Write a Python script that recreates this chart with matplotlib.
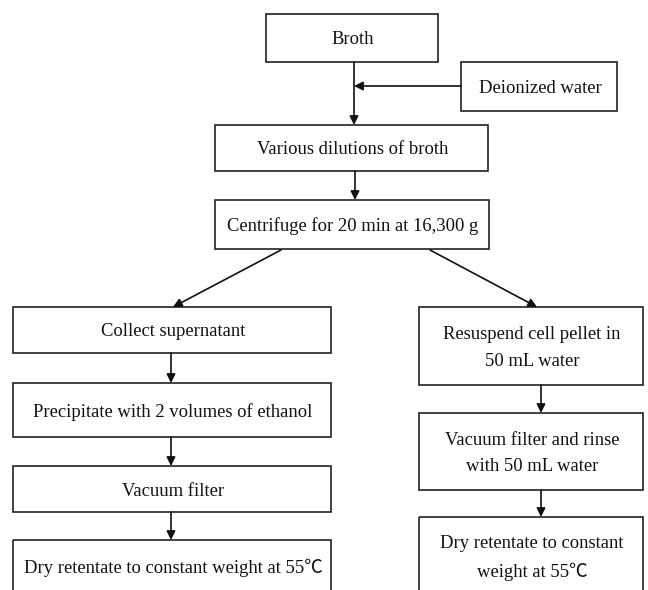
import matplotlib
matplotlib.use("Agg")
import matplotlib.pyplot as plt
from matplotlib.patches import Rectangle

plt.rcParams['font.family'] = ['Liberation Serif', 'Noto Sans CJK SC', 'DejaVu Serif']

# box texts
labels = [
    "Broth",
    "Deionized water",
    "Various dilutions of broth",
    "Centrifuge for 20 min at 16,300 g",
    "Collect supernatant",
    "Precipitate with 2 volumes of ethanol",
    "Vacuum filter",
    "Dry retentate to constant weight at 55\u2103",
    "Resuspend cell pellet in\n50 mL water",
    "Vacuum filter and rinse\nwith 50 mL water",
    "Dry retentate to constant\nweight at 55\u2103",
]

# layout in pixels: left, top, right, bottom (image coords, y down)
boxes = [
    (266, 14, 438, 62),
    (461, 62, 617, 111),
    (215, 125, 488, 171),
    (215, 200, 489, 249),
    (13, 307, 331, 353),
    (13, 383, 331, 437),
    (13, 466, 331, 512),
    (13, 540, 331, 610),
    (419, 307, 643, 385),
    (419, 413, 643, 490),
    (419, 517, 643, 610),
]
# text centre y for boxes cut off by the bottom edge
text_y = {7: 568, 10: 558}

# arrows: (x0, y0, x1, y1)
arrows = [
    (354, 62, 354, 125),
    (461, 86, 354, 86),
    (355, 171, 355, 200),
    (281, 250, 173, 307),
    (430, 250, 537, 307),
    (171, 353, 171, 383),
    (171, 437, 171, 466),
    (171, 512, 171, 540),
    (541, 385, 541, 413),
    (541, 490, 541, 517),
]

fig = plt.figure(figsize=(6.48, 5.90), dpi=100)
ax = fig.add_axes([0, 0, 1, 1])
ax.set_xlim(0, 648)
ax.set_ylim(590, 0)
ax.axis('off')

for i, (lab, (l, t, r, b)) in enumerate(zip(labels, boxes)):
    ax.add_patch(Rectangle((l, t), r - l, b - t, fill=False, edgecolor='#222222', lw=1.2))
    ty = text_y.get(i, (t + b) / 2 + 2)
    ax.text((l + r) / 2 + 1, ty, lab, ha='center', va='center', fontsize=13.4,
            color='#111111', linespacing=1.75)

for x0, y0, x1, y1 in arrows:
    ax.annotate('', xy=(x1, y1), xytext=(x0, y0),
                arrowprops=dict(arrowstyle='-|>', color='#111111', lw=1.2,
                                mutation_scale=13, shrinkA=0, shrinkB=0))

fig.savefig('out.png', dpi=100)
